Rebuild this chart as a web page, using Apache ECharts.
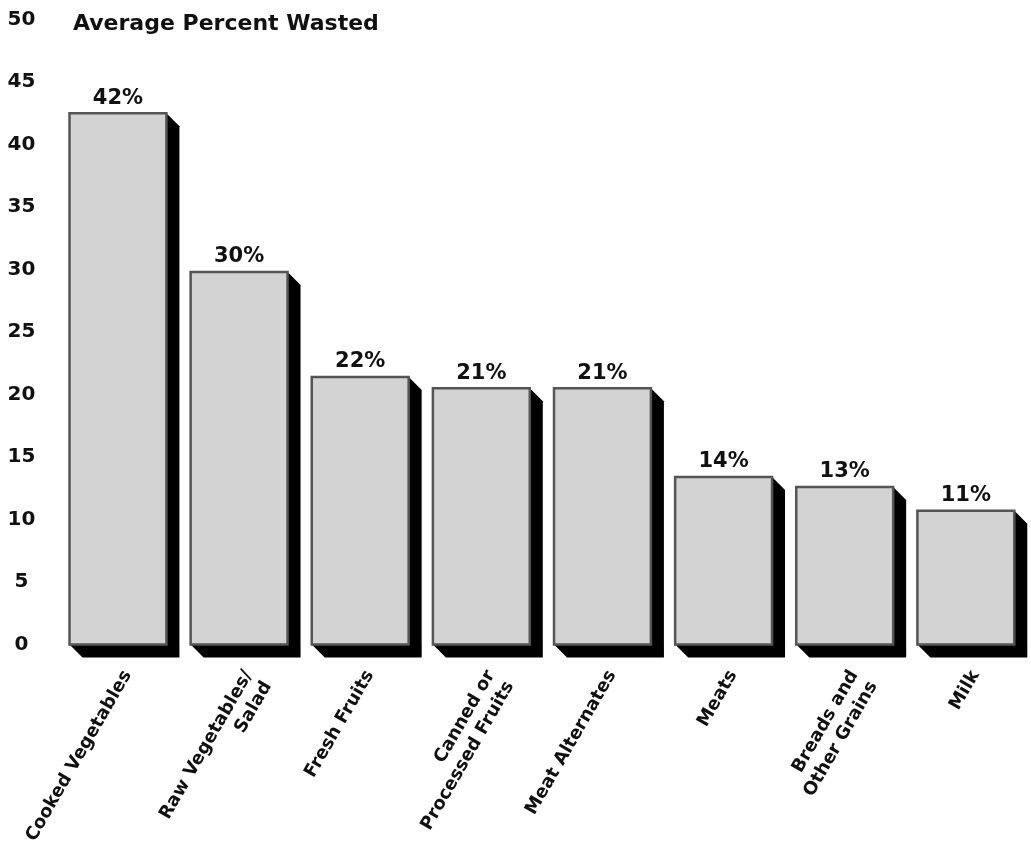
<!DOCTYPE html>
<html>
<head>
<meta charset="utf-8">
<title>Average Percent Wasted</title>
<script src="https://cdn.jsdelivr.net/npm/echarts@6/dist/echarts.min.js"></script>
<style>
    html, body { margin: 0; padding: 0; background: #fff; }
    #chart { width: 1031px; height: 846px; }
</style>
</head>
<body>
<div id="chart"></div>
<script>
    // data
    var categories = ['Cooked Vegetables', 'Raw Vegetables/\nSalad', 'Fresh Fruits', 'Canned or\nProcessed Fruits',
        'Meat Alternates', 'Meats', 'Breads and\nOther Grains', 'Milk'];
    var wasted = [42.5, 29.8, 21.4, 20.5, 20.5, 13.4, 12.6, 10.7];
    var wastedLabels = ['42%', '30%', '22%', '21%', '21%', '14%', '13%', '11%'];
    var yTicks = { min: 0, max: 50, step: 5 };

    var font = '"DejaVu Sans", sans-serif';
    var depth = 13; // 3d extrusion in px

    var myChart = echarts.init(document.getElementById('chart'));

    var option = {
        animation: false,
        title: {
            text: 'Average Percent Wasted',
            left: 73,
            top: 13,
            padding: 0,
            textStyle: { fontFamily: font, fontWeight: 'bold', fontSize: 22, color: '#111' }
        },
        grid: { left: 57.4, right: 4.6, top: 19.5, bottom: 201.5, outerBoundsMode: 'none', containLabel: false },
        xAxis: {
            type: 'category', data: categories,
            axisLine: { show: false }, axisTick: { show: false },
            axisLabel: {
                rotate: 60, interval: 0, margin: 22,
                align: 'right', verticalAlign: 'top', lineHeight: 22,
                fontFamily: font, fontWeight: 'bold', fontSize: 18, color: '#111'
            }
        },
        yAxis: {
            type: 'value', min: yTicks.min, max: yTicks.max, interval: yTicks.step,
            axisLine: { show: false }, axisTick: { show: false }, splitLine: { show: false },
            axisLabel: {
                align: 'center', margin: 36,
                fontFamily: font, fontWeight: 'bold', fontSize: 20, color: '#111'
            }
        },
        series: [{
            type: 'custom',
            data: wasted.map(function (v, i) { return [i, v]; }),
            encode: { x: 0, y: 1 },
            renderItem: function (params, api) {
                var i = api.value(0);
                var top = api.coord([i, api.value(1)]);
                var base = api.coord([i, 0]);
                var w = api.size([1, 0])[0] * 0.8;
                var x0 = top[0] - w / 2, x1 = top[0] + w / 2;
                var y0 = top[1], y1 = base[1];
                return {
                    type: 'group',
                    children: [
                        {
                            // black extrusion to the right and below
                            type: 'polygon',
                            shape: { points: [[x0, y0], [x1, y0], [x1 + depth, y0 + depth], [x1 + depth, y1 + depth], [x0 + depth, y1 + depth], [x0, y1]] },
                            style: { fill: '#000' }
                        },
                        {
                            type: 'rect',
                            shape: { x: x0, y: y0, width: w, height: y1 - y0 },
                            style: { fill: '#d3d3d3', stroke: '#555', lineWidth: 2.5 }
                        },
                        {
                            type: 'text',
                            style: {
                                text: wastedLabels[params.dataIndex],
                                x: top[0], y: y0 - 15,
                                align: 'center', verticalAlign: 'middle',
                                fontFamily: font, fontWeight: 'bold', fontSize: 21, fill: '#111'
                            }
                        }
                    ]
                };
            }
        }]
    };

    myChart.setOption(option);
</script>
</body>
</html>
